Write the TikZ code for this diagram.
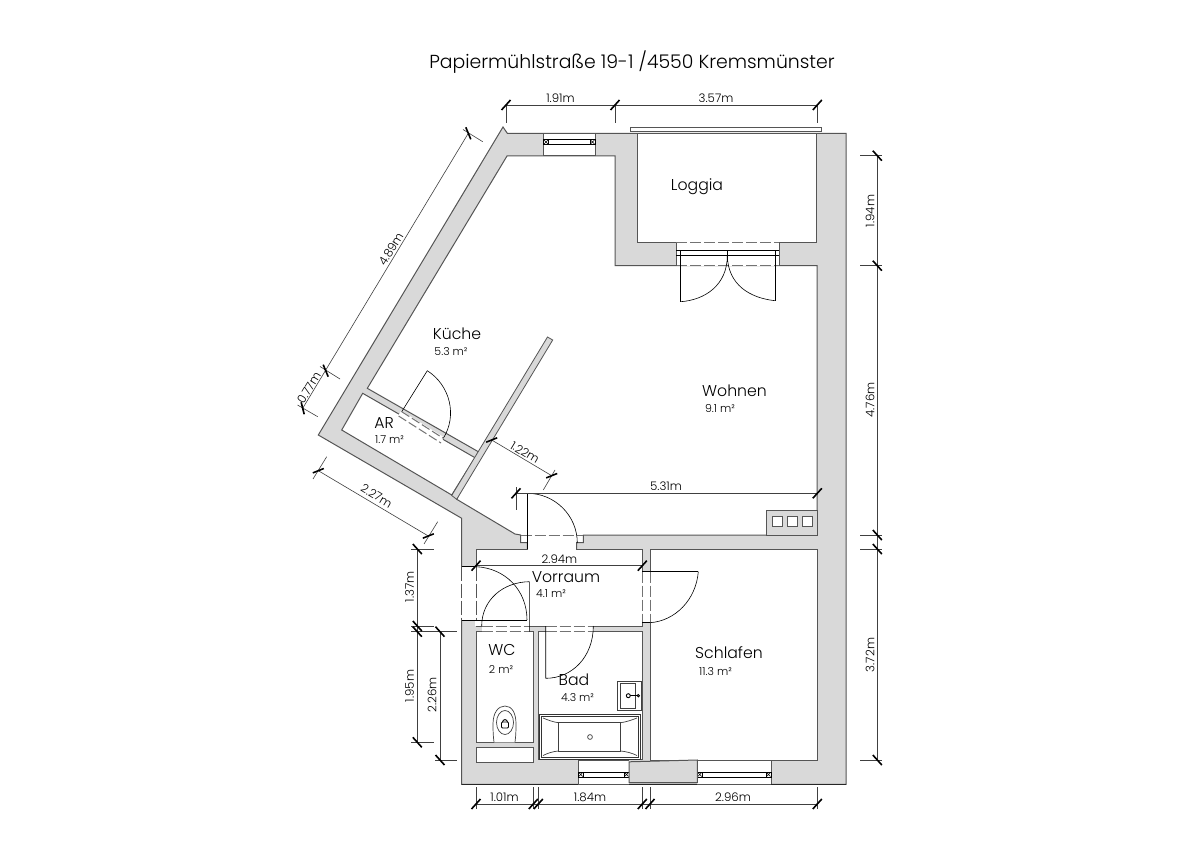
\documentclass[tikz,border=0pt]{standalone}
\usepackage{fontspec}
\setmainfont{Poppins}[UprightFont=* Light]
\usetikzlibrary{calc}
\definecolor{wallgray}{HTML}{D9D9D9}
\definecolor{walledge}{HTML}{555555}
\newcommand\qarc[3]{(#2) .. controls ($(#2)+0.5523*(#3)-0.5523*(#1)$) and ($(#3)+0.5523*(#2)-0.5523*(#1)$) .. (#3)}
\newcommand\tkf[1]{\draw[tickmark] ($(#1)+(-4.5,5)$) -- ($(#1)+(4.5,-5)$);}
\newcommand\tkb[1]{\draw[tickmark] ($(#1)+(-4.5,-5)$) -- ($(#1)+(4.5,5)$);}
\newcommand\tkd[3]{\draw[tickmark] ($(#1)-(#2,#3)$) -- ($(#1)+(#2,#3)$);}
\newcommand\winsq[1]{\draw[thin line,fill=white] ($(#1)+(-2.5,-2.5)$) rectangle ($(#1)+(2.5,2.5)$);
  \draw[line width=.5pt] ($(#1)+(-2,-2)$) -- ($(#1)+(2,2)$) ($(#1)+(-2,2)$) -- ($(#1)+(2,-2)$);}
\tikzset{
  wall/.style={fill=wallgray,draw=walledge,line width=1pt,line join=miter},
  room/.style={fill=white,draw=walledge,line width=1pt,line join=miter},
  gap/.style={fill=white,draw=none},
  thin line/.style={draw=black,line width=.6pt},
  dimline/.style={draw=black!75,line width=.6pt},
  tickmark/.style={draw=black,line width=1.6pt},
  openedge/.style={draw=gray!90!black,line width=1pt,dash pattern=on 11pt off 3pt},
  lab/.style={font=\fontsize{15.7}{17}\selectfont,inner sep=0pt,text=black},
  area/.style={font=\fontsize{11}{13}\selectfont,inner sep=0pt,text=black},
  dimlab/.style={font=\fontsize{11.8}{14}\selectfont,inner sep=0pt,text=black},
}
\begin{document}
\begin{tikzpicture}[x=1pt,y=-1pt]
\useasboundingbox (0,0) rectangle (1191,842);
\fill[white] (0,0) rectangle (1191,842);
\node[inner sep=0pt,font=\fontsize{18.85}{21}\selectfont,text=black] (title) at (632,62) {Papiermühlstraße 19-1 /4550 Kremsmünster};
% outer walls
\draw[wall] (503,127) -- (507.3,133.3) -- (846,133.3) -- (846,784.3) -- (461.7,784.3) -- (461.7,518.3) -- (318.3,435) -- cycle;
\draw[draw=black!85,line width=1pt] (461.7,784.3) -- (846,784.3);
% balcony bar
\draw[thin line,draw=walledge,fill=white] (630.7,127) rectangle (821.7,131);
% loggia
\draw[room] (637.3,133.3) rectangle (816.8,242.7);
% main living space
\draw[room] (507,156) -- (615,156) -- (615,265.7) -- (817,265.7) -- (817,510.7) -- (766.7,510.7) -- (766.7,535) -- (583.3,535) -- (583.3,542.7) -- (576.7,542.7) -- (576.7,549) -- (527.3,549) -- (527.3,542.7) -- (520.7,542.7) -- (520.7,535) -- (515,534) -- (456.7,499.3) -- (478.3,451.7) -- (367.3,388.3) -- cycle;
% AR
\draw[room] (362.7,393.3) -- (475,457.7) -- (451.7,495) -- (341.7,430) -- cycle;
% slim wall
\draw[wall,line width=.8pt] (547.5,337) -- (552.7,340) -- (456.7,499.3) -- (451.7,495.5) -- cycle;
% rooms
\draw[room] (476,549) rectangle (642.3,626);
\draw[room] (650,549) rectangle (817,760);
\draw[room] (476,631.7) rectangle (533.3,742.3);
\draw[room] (476,747.7) rectangle (533.3,762.3);
\draw[room] (538.3,631.7) rectangle (642.3,759.3);
% chimney
\draw[wall] (766.7,510.7) rectangle (817,535);
\foreach \x in {772.7,787.5,802.3} \draw[thin line,draw=walledge,fill=white,line width=.8pt] (\x,516) rectangle ++(10,10);
% door openings
\fill[gap] (676.5,242) rectangle (778.5,266.5);
\draw[openedge] (676,242.7) -- (779,242.7);
\draw[openedge] (676,265.7) -- (779,265.7);
\draw[walledge,line width=1pt] (676,242.7) -- (676,265.7) (779,242.7) -- (779,265.7);
\draw[thin line] (676,250.7) -- (779,250.7) (676,255.7) -- (779,255.7) (727.3,250.7) -- (727.3,262);
\draw[thin line] (680.7,250.7) -- (680.7,301.7);
\draw[thin line] (775,250.7) -- (775,300.7);
\draw[thin line] (680.7,301.7) .. controls (705,300) and (727.3,285) .. (727.3,255.7);
\draw[thin line] (775,300.7) .. controls (750,298) and (728,285) .. (727.3,255.7);
% entry door into hall
\fill[gap] (527.8,534) rectangle (576.2,550);
\draw[openedge] (520.7,535) -- (583.3,535);
\draw[thin line] (527.3,493.3) -- (527.3,549);
\coordinate (enC) at (527.3,543);\coordinate (enP) at (527.3,493.3);\coordinate (enQ) at (577.3,543);
\draw[thin line] \qarc{enC}{enP}{enQ};
% AR door
\fill[gap] (401.2,410.7) -- (444,437.3) -- (441.4,441.7) -- (398.6,415.1) -- cycle;
\draw[openedge,dash pattern=on 9pt off 3pt] (401.7,411.7) -- (443.3,438.3);
\draw[openedge,dash pattern=on 9pt off 3pt] (398.6,416) -- (441,443);
\draw[thin line] (401.7,411.7) -- (427.3,370.7);
\coordinate (arC) at (401.7,411.7);\coordinate (arP) at (427.3,370.7);\coordinate (arQ) at (443.3,438.3);
\draw[thin line] \qarc{arC}{arP}{arQ};
% Vorraum left opening
\fill[gap] (461,566.7) rectangle (475.5,620);
\draw[white,line width=1.2pt] (476,566.7) -- (476,626);
\draw[walledge,line width=1pt,dash pattern=on 14pt off 3pt] (461.7,566.7) -- (461.7,620);
\draw[walledge,line width=1pt,dash pattern=on 14pt off 3pt] (476,566.7) -- (476,620);
\draw[thin line] (461.7,566.7) -- (476,566.7) (461.7,620) -- (527,620);
\draw[thin line] (476,566.7) .. controls (505,568) and (527,590) .. (527,620);
% WC door
\fill[gap] (482,625) rectangle (529,632.5);
\draw[openedge] (481.7,626) -- (529.3,626);
\draw[openedge] (481.7,631.7) -- (529.3,631.7);
\draw[thin line] (529.3,581.7) -- (529.3,631.7) (481.7,626) .. controls (481.7,600) and (503,582) .. (529.3,581.7);
% Bad door
\fill[gap] (546,625) rectangle (593,632.5);
\draw[openedge] (545.7,626) -- (593.3,626);
\draw[openedge] (545.7,631.7) -- (593.3,631.7);
\draw[thin line] (545.7,626) -- (545.7,678.3) (545.7,678.3) .. controls (572,678.3) and (593.3,657) .. (593.3,626);
% Schlafen door
\fill[gap] (641.5,571.7) rectangle (650.5,622.7);
\draw[openedge] (642.3,571.7) -- (642.3,622.7);
\draw[openedge] (650,571.7) -- (650,622.7);
\draw[thin line] (642.3,571.7) -- (698.3,571.7) (642.3,622.7) -- (650,622.7);
\draw[thin line] (698.3,571.7) .. controls (696,600) and (675,621) .. (650,622.7);
% top window
\fill[gap] (543.3,134) rectangle (595,155.5);
\draw[walledge,line width=1pt] (543.3,133.3) -- (595,133.3) (543.3,156) -- (595,156) (543.3,133.3) -- (543.3,156) (595,133.3) -- (595,156);
\draw[thin line] (546,139.5) -- (592.5,139.5) (546,144.5) -- (592.5,144.5);
\winsq{546,142} \winsq{592.5,142}
% bottom windows
\fill[gap] (578.3,760) rectangle (629,784);
\draw[walledge,line width=1pt] (578.3,760) -- (629,760) (578.3,784.3) -- (629,784.3) (578.3,760) -- (578.3,784.3);
\draw[thin line] (581,772) -- (627,772) (581,777) -- (627,777);
\winsq{580.8,774.5} \winsq{626.5,774.5}
\fill[gap] (697.3,760.5) rectangle (771,784);
\draw[walledge,line width=1pt] (697.3,760) -- (771,760) (697.3,784.3) -- (771,784.3) (771,760) -- (771,784.3);
\draw[thin line] (700,772) -- (768.5,772) (700,777) -- (768.5,777);
\winsq{699.8,774.5} \winsq{768.5,774.5}
\draw[wall] (629,761.8) -- (697.3,760) -- (697.3,782.7) -- (629,782.7) -- cycle;
% bathtub
\draw[draw=black!80,line width=1pt,fill=white] (539,714.3) rectangle (640.7,759.3);
\draw[draw=black!80,line width=.7pt] (541.5,716.7) rectangle (638.5,757);
\draw[draw=black!75,line width=.7pt] (558.3,722.7) rectangle (620.7,751);
\draw[draw=black!75,line width=.7pt] (543,718) .. controls (548,720) and (553,722) .. (558.3,722.7) (637,718) .. controls (632,720) and (626,722) .. (620.7,722.7) (543,755.5) .. controls (548,753) and (553,751.5) .. (558.3,751) (637,755.5) .. controls (632,753) and (626,751.5) .. (620.7,751);
\draw[draw=black!75,line width=.7pt] (590,737) circle[radius=2.4];
% sink
\draw[draw=black!75,line width=1pt,fill=white] (617.5,681.7) rectangle (641.7,710);
\draw[draw=black!75,line width=.7pt] (620,683.3) rectangle (635,708);
\draw[line width=1pt] (628.3,695.7) -- (638.3,695.7);
\draw[line width=.9pt,fill=white] (628.3,695.7) circle[radius=2];
\draw[line width=.9pt,fill=white] (638.3,695.7) circle[radius=1.2];
% toilet
\draw[draw=black!75,line width=.7pt,fill=white] (494,742.3) .. controls (493,735) and (493,728) .. (493,724) .. controls (493,713) and (498,706) .. (505,706) .. controls (512,706) and (516,713) .. (516,724) .. controls (516,728) and (516,735) .. (515,742.3);
\draw[draw=black!75,line width=.7pt] (505,722.5) ellipse[x radius=8.5,y radius=12];
\draw[line width=.9pt] (505,722) circle[radius=2.4];
\draw[line width=.9pt,fill=white,rounded corners=1pt] (501.5,722) rectangle (508.5,728);
% ---- dimension lines
\draw[dimline] (506,105) -- (817.3,105) (506,105) -- (506,122.7) (615,105) -- (615,122.7) (817.3,105) -- (817.3,122.7);
\tkf{506,105} \tkf{615,105} \tkf{817.3,105}
\node[dimlab] (d1) at (560.5,98.5) {1.91m};
\node[dimlab] (d2) at (716,98.5) {3.57m};
\draw[dimline] (877.3,155.7) -- (877.3,760);
\foreach \y in {155.7,265.7,535,549,760} \draw[dimline] (860,\y) -- (882,\y);
\tkb{877.3,155.7} \tkb{877.3,265.7} \tkb{877.3,535} \tkb{877.3,549} \tkb{877.3,760}
\node[dimlab,rotate=90] (d3) at (870,211) {1.94m};
\node[dimlab,rotate=90] (d4) at (870,400) {4.76m};
\node[dimlab,rotate=90] (d5) at (870,655) {3.72m};
\draw[dimline] (476,804) -- (817.3,804);
\foreach \x in {476,533.3,538.3,642.3,650,817.3} {\draw[dimline] (\x,787) -- (\x,809); \tkf{\x,804}}
\node[dimlab] (d6) at (504.5,797) {1.01m};
\node[dimlab] (d7) at (590,797) {1.84m};
\node[dimlab] (d8) at (733,797) {2.96m};
\draw[dimline] (417.3,549) -- (417.3,742.3) (440,631.7) -- (440,760);
\draw[dimline] (411,549) -- (434,549) (411,626) -- (434,626) (411,631.7) -- (457,631.7) (411,742.3) -- (434,742.3) (435,760) -- (457,760);
\tkb{417.3,549} \tkb{417.3,626} \tkb{417.3,631.7} \tkb{417.3,742.3} \tkb{440,631.7} \tkb{440,760}
\node[dimlab,rotate=90] (d9) at (409.5,587) {1.37m};
\node[dimlab,rotate=90] (d10) at (409.5,686) {1.95m};
\node[dimlab,rotate=90] (d11) at (432,695) {2.26m};
\draw[dimline] (468.3,133.3) -- (302.7,408.3);
\draw[dimline] (463,129.5) -- (482.7,141.7) (320,366.5) -- (340,379) (297.5,405) -- (317.7,416.7);
\tkd{468.3,133.3}{2.5}{6} \tkd{325.7,370.7}{2.5}{6} \tkd{302.7,408.3}{1.5}{6}
\node[dimlab,rotate=58.5] (d12) at (391,249) {4.89m};
\node[dimlab,rotate=58.5] (d13) at (309,388) {0.77m};
\draw[dimline] (318.3,470.7) -- (428.3,536) (326.7,456.7) -- (313,479) (437.7,521.7) -- (424,544);
\tkd{318.3,470.7}{5.5}{-2.2} \tkd{428.3,536}{5.5}{-2.2}
\node[dimlab,rotate=-31] (d14) at (376.7,496) {2.27m};
\draw[dimline] (491.7,440) -- (551.7,475.7) (543.3,490) -- (555,470);
\tkd{491.7,440}{5.5}{-2.2} \tkd{551.7,475.7}{5.5}{-2.2}
\node[dimlab,rotate=-31] (d15) at (525,452.5) {1.22m};
\draw[dimline] (516,493.3) -- (817.3,493.3) (516,487) -- (516,510);
\tkf{516,493.3} \tkf{817.3,493.3}
\node[dimlab] (d16) at (666,486.5) {5.31m};
\draw[dimline] (476,565.7) -- (642.3,565.7);
\tkf{476,565.7} \tkf{642.3,565.7}
\node[dimlab] (d17) at (559.5,559) {2.94m};
% ---- labels
\node[lab] (l1) at (697,187) {Loggia};
\node[lab] (l2) at (457,334) {Küche};
\node[area] (a2) at (451,352) {5.3 m²};
\node[lab] (l3) at (734.5,390.5) {Wohnen};
\node[area] (a3) at (720,409) {9.1 m²};
\node[lab] (l4) at (384,423) {AR};
\node[area] (a4) at (389.5,440) {1.7 m²};
\node[lab] (l5) at (566,577) {Vorraum};
\node[area] (a5) at (551,593.5) {4.1 m²};
\node[lab] (l6) at (502,650) {WC};
\node[area] (a6) at (501,669) {2 m²};
\node[lab] (l7) at (574,680) {Bad};
\node[area] (a7) at (577.5,698) {4.3 m²};
\node[lab] (l8) at (729,653) {Schlafen};
\node[area] (a8) at (715.5,672) {11.3 m²};
\end{tikzpicture}
\end{document}
